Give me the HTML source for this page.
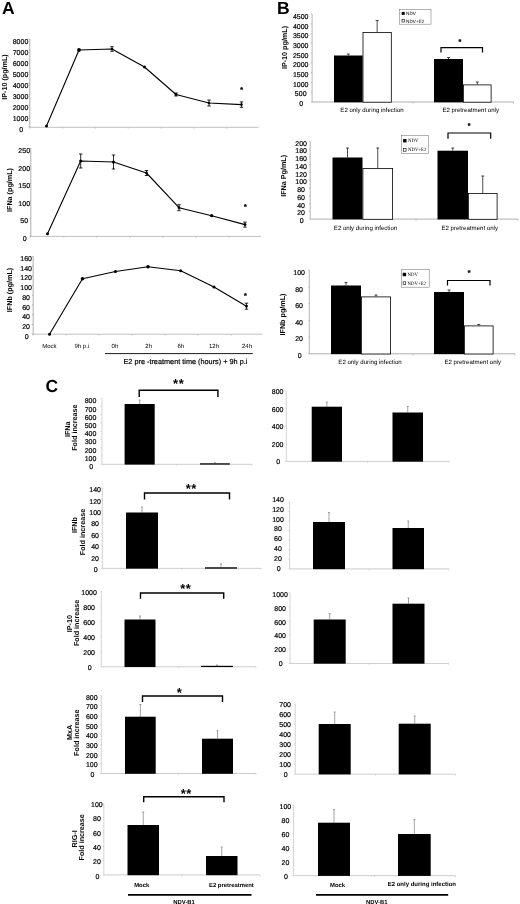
<!DOCTYPE html>
<html lang="en"><head><meta charset="utf-8"><title>Figure</title>
<style>
html,body{margin:0;padding:0;background:#fff;}
body{width:520px;height:904px;overflow:hidden;}
svg{display:block;will-change:transform;font-family:'Liberation Sans', Arial, Helvetica, sans-serif;fill:#000;}
.t{stroke:#000;stroke-width:0.2px;}
.s{stroke:#000;stroke-width:0.3px;}
</style></head><body>
<svg width="520" height="904" viewBox="0 0 520 904" text-rendering="geometricPrecision">
<text x="1.9" y="13.6" font-size="17.5" font-weight="bold">A</text>
<text x="277" y="13.6" font-size="17.5" font-weight="bold">B</text>
<text x="45.6" y="391.6" font-size="17.5" font-weight="bold">C</text>
<line x1="29.8" y1="39" x2="29.8" y2="127.3" stroke="#8c8c8c" stroke-width="0.7"/>
<line x1="28.5" y1="127.3" x2="29.8" y2="127.3" stroke="#8c8c8c" stroke-width="0.56"/>
<text x="21.1" y="131.81" font-size="7" text-anchor="middle" class="t">0</text>
<line x1="28.5" y1="116.26" x2="29.8" y2="116.26" stroke="#8c8c8c" stroke-width="0.56"/>
<text x="20.5" y="120.8" font-size="7" text-anchor="middle" class="t">1000</text>
<line x1="28.5" y1="105.22" x2="29.8" y2="105.22" stroke="#8c8c8c" stroke-width="0.56"/>
<text x="20.5" y="109.79" font-size="7" text-anchor="middle" class="t">2000</text>
<line x1="28.5" y1="94.19" x2="29.8" y2="94.19" stroke="#8c8c8c" stroke-width="0.56"/>
<text x="20.5" y="98.79" font-size="7" text-anchor="middle" class="t">3000</text>
<line x1="28.5" y1="83.15" x2="29.8" y2="83.15" stroke="#8c8c8c" stroke-width="0.56"/>
<text x="20.5" y="87.78" font-size="7" text-anchor="middle" class="t">4000</text>
<line x1="28.5" y1="72.11" x2="29.8" y2="72.11" stroke="#8c8c8c" stroke-width="0.56"/>
<text x="20.5" y="76.77" font-size="7" text-anchor="middle" class="t">5000</text>
<line x1="28.5" y1="61.08" x2="29.8" y2="61.08" stroke="#8c8c8c" stroke-width="0.56"/>
<text x="20.5" y="65.77" font-size="7" text-anchor="middle" class="t">6000</text>
<line x1="28.5" y1="50.04" x2="29.8" y2="50.04" stroke="#8c8c8c" stroke-width="0.56"/>
<text x="20.5" y="54.76" font-size="7" text-anchor="middle" class="t">7000</text>
<line x1="28.5" y1="39" x2="29.8" y2="39" stroke="#8c8c8c" stroke-width="0.56"/>
<text x="20.5" y="43.76" font-size="7" text-anchor="middle" class="t">8000</text>
<line x1="29.8" y1="127.3" x2="258.5" y2="127.3" stroke="#a8a8a8" stroke-width="0.7"/>
<line x1="29.8" y1="127.3" x2="29.8" y2="128.8" stroke="#a8a8a8" stroke-width="0.56"/>
<line x1="62.6" y1="127.3" x2="62.6" y2="128.8" stroke="#a8a8a8" stroke-width="0.56"/>
<line x1="95.4" y1="127.3" x2="95.4" y2="128.8" stroke="#a8a8a8" stroke-width="0.56"/>
<line x1="128.2" y1="127.3" x2="128.2" y2="128.8" stroke="#a8a8a8" stroke-width="0.56"/>
<line x1="161" y1="127.3" x2="161" y2="128.8" stroke="#a8a8a8" stroke-width="0.56"/>
<line x1="193.8" y1="127.3" x2="193.8" y2="128.8" stroke="#a8a8a8" stroke-width="0.56"/>
<line x1="226.6" y1="127.3" x2="226.6" y2="128.8" stroke="#a8a8a8" stroke-width="0.56"/>
<path d="M46.5,126 L79,50 L112,49 L144.5,67 L176,94.5 L209,103 L241.5,104.6" fill="none" stroke="#000" stroke-width="1.1" stroke-linejoin="round"/>
<circle cx="46.5" cy="126" r="1.5"/>
<circle cx="79" cy="50" r="1.9"/>
<line x1="112" y1="46.7" x2="112" y2="51.3" stroke="#000" stroke-width="0.85"/>
<line x1="110.3" y1="46.7" x2="113.7" y2="46.7" stroke="#000" stroke-width="0.85"/>
<line x1="110.3" y1="51.3" x2="113.7" y2="51.3" stroke="#000" stroke-width="0.85"/>
<circle cx="112" cy="49" r="1.3"/>
<circle cx="144.5" cy="67" r="1.5"/>
<line x1="176" y1="93" x2="176" y2="96" stroke="#000" stroke-width="0.85"/>
<line x1="174.3" y1="93" x2="177.7" y2="93" stroke="#000" stroke-width="0.85"/>
<line x1="174.3" y1="96" x2="177.7" y2="96" stroke="#000" stroke-width="0.85"/>
<circle cx="176" cy="94.5" r="1.4"/>
<line x1="209" y1="100" x2="209" y2="106" stroke="#000" stroke-width="0.85"/>
<line x1="207.3" y1="100" x2="210.7" y2="100" stroke="#000" stroke-width="0.85"/>
<line x1="207.3" y1="106" x2="210.7" y2="106" stroke="#000" stroke-width="0.85"/>
<circle cx="209" cy="103" r="1.3"/>
<line x1="241.5" y1="101.9" x2="241.5" y2="107.3" stroke="#000" stroke-width="0.85"/>
<line x1="239.8" y1="101.9" x2="243.2" y2="101.9" stroke="#000" stroke-width="0.85"/>
<line x1="239.8" y1="107.3" x2="243.2" y2="107.3" stroke="#000" stroke-width="0.85"/>
<circle cx="241.5" cy="104.6" r="1.3"/>
<text x="241.65" y="92.15" font-size="7" font-weight="bold" text-anchor="middle" class="s">*</text>
<text x="6.54" y="77" font-size="7.2" text-anchor="middle" font-weight="bold" transform="rotate(-90 6.54 77)">IP-10 (pg/mL)</text>
<line x1="30.8" y1="148.3" x2="30.8" y2="236.4" stroke="#8c8c8c" stroke-width="0.7"/>
<line x1="29.5" y1="236.4" x2="30.8" y2="236.4" stroke="#8c8c8c" stroke-width="0.56"/>
<text x="24.8" y="240.91" font-size="7" text-anchor="middle" class="t">0</text>
<line x1="29.5" y1="218.78" x2="30.8" y2="218.78" stroke="#8c8c8c" stroke-width="0.56"/>
<text x="24.2" y="223.35" font-size="7" text-anchor="middle" class="t">50</text>
<line x1="29.5" y1="201.16" x2="30.8" y2="201.16" stroke="#8c8c8c" stroke-width="0.56"/>
<text x="24.2" y="205.79" font-size="7" text-anchor="middle" class="t">100</text>
<line x1="29.5" y1="183.54" x2="30.8" y2="183.54" stroke="#8c8c8c" stroke-width="0.56"/>
<text x="24.2" y="188.23" font-size="7" text-anchor="middle" class="t">150</text>
<line x1="29.5" y1="165.92" x2="30.8" y2="165.92" stroke="#8c8c8c" stroke-width="0.56"/>
<text x="24.2" y="170.67" font-size="7" text-anchor="middle" class="t">200</text>
<line x1="29.5" y1="148.3" x2="30.8" y2="148.3" stroke="#8c8c8c" stroke-width="0.56"/>
<text x="24.2" y="153.11" font-size="7" text-anchor="middle" class="t">250</text>
<line x1="30.8" y1="236.4" x2="261" y2="236.4" stroke="#a8a8a8" stroke-width="0.7"/>
<line x1="30.8" y1="236.4" x2="30.8" y2="237.9" stroke="#a8a8a8" stroke-width="0.56"/>
<line x1="63.8" y1="236.4" x2="63.8" y2="237.9" stroke="#a8a8a8" stroke-width="0.56"/>
<line x1="96.8" y1="236.4" x2="96.8" y2="237.9" stroke="#a8a8a8" stroke-width="0.56"/>
<line x1="129.8" y1="236.4" x2="129.8" y2="237.9" stroke="#a8a8a8" stroke-width="0.56"/>
<line x1="162.8" y1="236.4" x2="162.8" y2="237.9" stroke="#a8a8a8" stroke-width="0.56"/>
<line x1="195.8" y1="236.4" x2="195.8" y2="237.9" stroke="#a8a8a8" stroke-width="0.56"/>
<line x1="228.8" y1="236.4" x2="228.8" y2="237.9" stroke="#a8a8a8" stroke-width="0.56"/>
<path d="M47.5,233.7 L80.7,161 L113.5,162 L146.5,173 L179,207.7 L211.7,215.7 L245,224.6" fill="none" stroke="#000" stroke-width="1.1" stroke-linejoin="round"/>
<circle cx="47.5" cy="233.7" r="1.5"/>
<line x1="80.7" y1="154" x2="80.7" y2="168" stroke="#000" stroke-width="0.85"/>
<line x1="79" y1="154" x2="82.4" y2="154" stroke="#000" stroke-width="0.85"/>
<line x1="79" y1="168" x2="82.4" y2="168" stroke="#000" stroke-width="0.85"/>
<circle cx="80.7" cy="161" r="1.6"/>
<line x1="113.5" y1="155" x2="113.5" y2="169" stroke="#000" stroke-width="0.85"/>
<line x1="111.8" y1="155" x2="115.2" y2="155" stroke="#000" stroke-width="0.85"/>
<line x1="111.8" y1="169" x2="115.2" y2="169" stroke="#000" stroke-width="0.85"/>
<circle cx="113.5" cy="162" r="1.6"/>
<line x1="146.5" y1="170.5" x2="146.5" y2="175.5" stroke="#000" stroke-width="0.85"/>
<line x1="144.8" y1="170.5" x2="148.2" y2="170.5" stroke="#000" stroke-width="0.85"/>
<line x1="144.8" y1="175.5" x2="148.2" y2="175.5" stroke="#000" stroke-width="0.85"/>
<circle cx="146.5" cy="173" r="1.4"/>
<line x1="179" y1="204.7" x2="179" y2="210.7" stroke="#000" stroke-width="0.85"/>
<line x1="177.3" y1="204.7" x2="180.7" y2="204.7" stroke="#000" stroke-width="0.85"/>
<line x1="177.3" y1="210.7" x2="180.7" y2="210.7" stroke="#000" stroke-width="0.85"/>
<circle cx="179" cy="207.7" r="1.4"/>
<circle cx="211.7" cy="215.7" r="1.6"/>
<line x1="245" y1="222.1" x2="245" y2="227.1" stroke="#000" stroke-width="0.85"/>
<line x1="243.3" y1="222.1" x2="246.7" y2="222.1" stroke="#000" stroke-width="0.85"/>
<line x1="243.3" y1="227.1" x2="246.7" y2="227.1" stroke="#000" stroke-width="0.85"/>
<circle cx="245" cy="224.6" r="1.4"/>
<text x="245.25" y="209.15" font-size="7" font-weight="bold" text-anchor="middle" class="s">*</text>
<text x="12.24" y="190" font-size="7.2" text-anchor="middle" font-weight="bold" transform="rotate(-90 12.24 190)">IFNa (pg/mL)</text>
<line x1="33.2" y1="256.4" x2="33.2" y2="334.2" stroke="#8c8c8c" stroke-width="0.7"/>
<line x1="31.9" y1="334.2" x2="33.2" y2="334.2" stroke="#8c8c8c" stroke-width="0.56"/>
<text x="26.7" y="338.71" font-size="7" text-anchor="middle" class="t">0</text>
<line x1="31.9" y1="324.47" x2="33.2" y2="324.47" stroke="#8c8c8c" stroke-width="0.56"/>
<text x="26.1" y="328.98" font-size="7" text-anchor="middle" class="t">20</text>
<line x1="31.9" y1="314.75" x2="33.2" y2="314.75" stroke="#8c8c8c" stroke-width="0.56"/>
<text x="26.1" y="319.26" font-size="7" text-anchor="middle" class="t">40</text>
<line x1="31.9" y1="305.02" x2="33.2" y2="305.02" stroke="#8c8c8c" stroke-width="0.56"/>
<text x="26.1" y="309.53" font-size="7" text-anchor="middle" class="t">60</text>
<line x1="31.9" y1="295.3" x2="33.2" y2="295.3" stroke="#8c8c8c" stroke-width="0.56"/>
<text x="26.1" y="299.81" font-size="7" text-anchor="middle" class="t">80</text>
<line x1="31.9" y1="285.57" x2="33.2" y2="285.57" stroke="#8c8c8c" stroke-width="0.56"/>
<text x="26.1" y="290.08" font-size="7" text-anchor="middle" class="t">100</text>
<line x1="31.9" y1="275.85" x2="33.2" y2="275.85" stroke="#8c8c8c" stroke-width="0.56"/>
<text x="26.1" y="280.36" font-size="7" text-anchor="middle" class="t">120</text>
<line x1="31.9" y1="266.12" x2="33.2" y2="266.12" stroke="#8c8c8c" stroke-width="0.56"/>
<text x="26.1" y="270.63" font-size="7" text-anchor="middle" class="t">140</text>
<line x1="31.9" y1="256.4" x2="33.2" y2="256.4" stroke="#8c8c8c" stroke-width="0.56"/>
<text x="26.1" y="260.91" font-size="7" text-anchor="middle" class="t">160</text>
<line x1="33.2" y1="334.2" x2="262.5" y2="334.2" stroke="#a8a8a8" stroke-width="0.7"/>
<line x1="33.2" y1="334.2" x2="33.2" y2="335.7" stroke="#a8a8a8" stroke-width="0.56"/>
<line x1="66.2" y1="334.2" x2="66.2" y2="335.7" stroke="#a8a8a8" stroke-width="0.56"/>
<line x1="99.2" y1="334.2" x2="99.2" y2="335.7" stroke="#a8a8a8" stroke-width="0.56"/>
<line x1="132.2" y1="334.2" x2="132.2" y2="335.7" stroke="#a8a8a8" stroke-width="0.56"/>
<line x1="165.2" y1="334.2" x2="165.2" y2="335.7" stroke="#a8a8a8" stroke-width="0.56"/>
<line x1="198.2" y1="334.2" x2="198.2" y2="335.7" stroke="#a8a8a8" stroke-width="0.56"/>
<line x1="231.2" y1="334.2" x2="231.2" y2="335.7" stroke="#a8a8a8" stroke-width="0.56"/>
<path d="M49.5,334.2 L82.5,278.7 L115.5,271.5 L148,266.7 L180.7,270.7 L214,287 L246.5,306.2" fill="none" stroke="#000" stroke-width="1.1" stroke-linejoin="round"/>
<circle cx="49.5" cy="334.2" r="1.5"/>
<circle cx="82.5" cy="278.7" r="1.8"/>
<circle cx="115.5" cy="271.5" r="1.6"/>
<circle cx="148" cy="266.7" r="1.8"/>
<circle cx="180.7" cy="270.7" r="1.5"/>
<circle cx="214" cy="287" r="1.6"/>
<line x1="246.5" y1="303.2" x2="246.5" y2="309.2" stroke="#000" stroke-width="0.85"/>
<line x1="244.8" y1="303.2" x2="248.2" y2="303.2" stroke="#000" stroke-width="0.85"/>
<line x1="244.8" y1="309.2" x2="248.2" y2="309.2" stroke="#000" stroke-width="0.85"/>
<circle cx="246.5" cy="306.2" r="1.4"/>
<text x="245.25" y="297.95" font-size="7" font-weight="bold" text-anchor="middle" class="s">*</text>
<text x="12.04" y="290" font-size="7.2" text-anchor="middle" font-weight="bold" transform="rotate(-90 12.04 290)">IFNb (pg/mL)</text>
<text x="49.4" y="347.7" font-size="6" text-anchor="middle">Mock</text>
<text x="81.8" y="347.7" font-size="6" text-anchor="middle">9h p.i</text>
<text x="114.9" y="347.7" font-size="6" text-anchor="middle">0h</text>
<text x="148.7" y="347.7" font-size="6" text-anchor="middle">2h</text>
<text x="180.8" y="347.7" font-size="6" text-anchor="middle">6h</text>
<text x="214" y="347.7" font-size="6" text-anchor="middle">12h</text>
<text x="247" y="347.7" font-size="6" text-anchor="middle">24h</text>
<line x1="105" y1="353.6" x2="252.8" y2="353.6" stroke="#000" stroke-width="0.9"/>
<text x="185.4" y="364" font-size="7.3" text-anchor="middle" class="t">E2 pre -treatment time (hours) + 9h p.i</text>
<line x1="312.1" y1="14.1" x2="312.1" y2="102" stroke="#9a9a9a" stroke-width="0.7"/>
<line x1="310.8" y1="102" x2="312.1" y2="102" stroke="#9a9a9a" stroke-width="0.56"/>
<text x="301.3" y="106.21" font-size="7" text-anchor="middle" class="t">0</text>
<line x1="310.8" y1="92.23" x2="312.1" y2="92.23" stroke="#9a9a9a" stroke-width="0.56"/>
<text x="300.7" y="96.49" font-size="7" text-anchor="middle" class="t">500</text>
<line x1="310.8" y1="82.47" x2="312.1" y2="82.47" stroke="#9a9a9a" stroke-width="0.56"/>
<text x="300.7" y="86.78" font-size="7" text-anchor="middle" class="t">1000</text>
<line x1="310.8" y1="72.7" x2="312.1" y2="72.7" stroke="#9a9a9a" stroke-width="0.56"/>
<text x="300.7" y="77.07" font-size="7" text-anchor="middle" class="t">1500</text>
<line x1="310.8" y1="62.93" x2="312.1" y2="62.93" stroke="#9a9a9a" stroke-width="0.56"/>
<text x="300.7" y="67.36" font-size="7" text-anchor="middle" class="t">2000</text>
<line x1="310.8" y1="53.17" x2="312.1" y2="53.17" stroke="#9a9a9a" stroke-width="0.56"/>
<text x="300.7" y="57.65" font-size="7" text-anchor="middle" class="t">2500</text>
<line x1="310.8" y1="43.4" x2="312.1" y2="43.4" stroke="#9a9a9a" stroke-width="0.56"/>
<text x="300.7" y="47.94" font-size="7" text-anchor="middle" class="t">3000</text>
<line x1="310.8" y1="33.63" x2="312.1" y2="33.63" stroke="#9a9a9a" stroke-width="0.56"/>
<text x="300.7" y="38.23" font-size="7" text-anchor="middle" class="t">3500</text>
<line x1="310.8" y1="23.87" x2="312.1" y2="23.87" stroke="#9a9a9a" stroke-width="0.56"/>
<text x="300.7" y="28.52" font-size="7" text-anchor="middle" class="t">4000</text>
<line x1="310.8" y1="14.1" x2="312.1" y2="14.1" stroke="#9a9a9a" stroke-width="0.56"/>
<text x="300.7" y="18.81" font-size="7" text-anchor="middle" class="t">4500</text>
<line x1="312.1" y1="102" x2="513.5" y2="102" stroke="#8e8e8e" stroke-width="0.7"/>
<line x1="413" y1="102" x2="413" y2="103.5" stroke="#8e8e8e" stroke-width="0.56"/>
<line x1="513.5" y1="102" x2="513.5" y2="103.5" stroke="#8e8e8e" stroke-width="0.56"/>
<line x1="348.3" y1="54" x2="348.3" y2="55.5" stroke="#000" stroke-width="0.7"/>
<line x1="346.8" y1="54" x2="349.8" y2="54" stroke="#000" stroke-width="0.7"/>
<rect x="334" y="55.5" width="28.6" height="46.8" fill="#000"/>
<line x1="377.15" y1="20.5" x2="377.15" y2="32" stroke="#000" stroke-width="0.7"/>
<line x1="375.65" y1="20.5" x2="378.65" y2="20.5" stroke="#000" stroke-width="0.7"/>
<rect x="363" y="32.4" width="28.3" height="69.8" fill="#fff" stroke="#000" stroke-width="0.8"/>
<line x1="448.5" y1="57.5" x2="448.5" y2="59" stroke="#000" stroke-width="0.7"/>
<line x1="447" y1="57.5" x2="450" y2="57.5" stroke="#000" stroke-width="0.7"/>
<rect x="434" y="59" width="29" height="43.3" fill="#000"/>
<line x1="477.25" y1="82" x2="477.25" y2="84.5" stroke="#000" stroke-width="0.7"/>
<line x1="475.75" y1="82" x2="478.75" y2="82" stroke="#000" stroke-width="0.7"/>
<rect x="463.4" y="84.9" width="27.7" height="17.3" fill="#fff" stroke="#000" stroke-width="0.8"/>
<text x="286.94" y="47.5" font-size="7.2" text-anchor="middle" font-weight="bold" transform="rotate(-90 286.94 47.5)">IP-10 pg/mL)</text>
<rect x="399.6" y="9.3" width="31.4" height="14.9" fill="#fff" stroke="#808080" stroke-width="0.6"/>
<rect x="401.7" y="11.9" width="3" height="3" fill="#000"/>
<rect x="402" y="19.6" width="2.4" height="2.4" fill="#fff" stroke="#000" stroke-width="0.6"/>
<text x="406" y="15.1" font-size="4.7">NDV</text>
<text x="406" y="22.5" font-size="4.7">NDV+E2</text>
<path d="M441,52.5 V47.7 H482.5 V52.5" fill="none" stroke="#000" stroke-width="1.2"/>
<text x="459.9" y="43.85" font-size="7" font-weight="bold" text-anchor="middle" class="s">*</text>
<text x="372" y="112.2" font-size="6.1" text-anchor="middle">E2 only during infection</text>
<text x="470.7" y="112.2" font-size="6.1" text-anchor="middle">E2 pretreatment only</text>
<line x1="310.2" y1="141.3" x2="310.2" y2="219.1" stroke="#9a9a9a" stroke-width="0.7"/>
<line x1="308.9" y1="219.1" x2="310.2" y2="219.1" stroke="#9a9a9a" stroke-width="0.56"/>
<text x="301.7" y="223.21" font-size="7" text-anchor="middle" class="t">0</text>
<line x1="308.9" y1="211.32" x2="310.2" y2="211.32" stroke="#9a9a9a" stroke-width="0.56"/>
<text x="301.1" y="215.45" font-size="7" text-anchor="middle" class="t">20</text>
<line x1="308.9" y1="203.54" x2="310.2" y2="203.54" stroke="#9a9a9a" stroke-width="0.56"/>
<text x="301.1" y="207.7" font-size="7" text-anchor="middle" class="t">40</text>
<line x1="308.9" y1="195.76" x2="310.2" y2="195.76" stroke="#9a9a9a" stroke-width="0.56"/>
<text x="301.1" y="199.94" font-size="7" text-anchor="middle" class="t">60</text>
<line x1="308.9" y1="187.98" x2="310.2" y2="187.98" stroke="#9a9a9a" stroke-width="0.56"/>
<text x="301.1" y="192.19" font-size="7" text-anchor="middle" class="t">80</text>
<line x1="308.9" y1="180.2" x2="310.2" y2="180.2" stroke="#9a9a9a" stroke-width="0.56"/>
<text x="301.1" y="184.43" font-size="7" text-anchor="middle" class="t">100</text>
<line x1="308.9" y1="172.42" x2="310.2" y2="172.42" stroke="#9a9a9a" stroke-width="0.56"/>
<text x="301.1" y="176.68" font-size="7" text-anchor="middle" class="t">120</text>
<line x1="308.9" y1="164.64" x2="310.2" y2="164.64" stroke="#9a9a9a" stroke-width="0.56"/>
<text x="301.1" y="168.92" font-size="7" text-anchor="middle" class="t">140</text>
<line x1="308.9" y1="156.86" x2="310.2" y2="156.86" stroke="#9a9a9a" stroke-width="0.56"/>
<text x="301.1" y="161.17" font-size="7" text-anchor="middle" class="t">160</text>
<line x1="308.9" y1="149.08" x2="310.2" y2="149.08" stroke="#9a9a9a" stroke-width="0.56"/>
<text x="301.1" y="153.41" font-size="7" text-anchor="middle" class="t">180</text>
<line x1="308.9" y1="141.3" x2="310.2" y2="141.3" stroke="#9a9a9a" stroke-width="0.56"/>
<text x="301.1" y="145.66" font-size="7" text-anchor="middle" class="t">200</text>
<line x1="310.2" y1="219.1" x2="518" y2="219.1" stroke="#8e8e8e" stroke-width="0.7"/>
<line x1="416" y1="219.1" x2="416" y2="220.6" stroke="#8e8e8e" stroke-width="0.56"/>
<line x1="518" y1="219.1" x2="518" y2="220.6" stroke="#8e8e8e" stroke-width="0.56"/>
<line x1="347.5" y1="148" x2="347.5" y2="157.5" stroke="#000" stroke-width="0.7"/>
<line x1="346" y1="148" x2="349" y2="148" stroke="#000" stroke-width="0.7"/>
<rect x="332.5" y="157.5" width="30" height="61.9" fill="#000"/>
<line x1="377.75" y1="148" x2="377.75" y2="168" stroke="#000" stroke-width="0.7"/>
<line x1="376.25" y1="148" x2="379.25" y2="148" stroke="#000" stroke-width="0.7"/>
<rect x="362.9" y="168.4" width="29.7" height="50.9" fill="#fff" stroke="#000" stroke-width="0.8"/>
<line x1="452.75" y1="148" x2="452.75" y2="150.7" stroke="#000" stroke-width="0.7"/>
<line x1="451.25" y1="148" x2="454.25" y2="148" stroke="#000" stroke-width="0.7"/>
<rect x="437.5" y="150.7" width="30.5" height="68.7" fill="#000"/>
<line x1="482.75" y1="176" x2="482.75" y2="193" stroke="#000" stroke-width="0.7"/>
<line x1="481.25" y1="176" x2="484.25" y2="176" stroke="#000" stroke-width="0.7"/>
<rect x="468.4" y="193.4" width="28.7" height="25.9" fill="#fff" stroke="#000" stroke-width="0.8"/>
<text x="286.34" y="175.8" font-size="7.2" text-anchor="middle" font-weight="bold" transform="rotate(-90 286.34 175.8)">IFNa Pg/mL)</text>
<rect x="401.3" y="135.6" width="27.4" height="18" fill="#fff" stroke="#808080" stroke-width="0.6"/>
<rect x="403.1" y="139" width="3.4" height="3.4" fill="#000"/>
<rect x="403.5" y="148.6" width="2.6" height="2.6" fill="#fff" stroke="#000" stroke-width="0.6"/>
<text x="408" y="141.55" font-size="4.8" font-family="'Liberation Serif', 'Times New Roman', serif">NDV</text>
<text x="408" y="150.75" font-size="4.8" font-family="'Liberation Serif', 'Times New Roman', serif">NDV+E2</text>
<path d="M448,138.7 V133 H490.7 V138.7" fill="none" stroke="#000" stroke-width="1.2"/>
<text x="469.2" y="127.85" font-size="7" font-weight="bold" text-anchor="middle" class="s">*</text>
<text x="365.5" y="230.3" font-size="6.1" text-anchor="middle">E2 only during infection</text>
<text x="469.7" y="230.3" font-size="6.1" text-anchor="middle">E2 pretreatment only</text>
<line x1="309.3" y1="270.3" x2="309.3" y2="353.8" stroke="#9a9a9a" stroke-width="0.7"/>
<line x1="308" y1="353.8" x2="309.3" y2="353.8" stroke="#9a9a9a" stroke-width="0.56"/>
<text x="299.7" y="358.01" font-size="7" text-anchor="middle" class="t">0</text>
<line x1="308" y1="337.1" x2="309.3" y2="337.1" stroke="#9a9a9a" stroke-width="0.56"/>
<text x="299.1" y="341.41" font-size="7" text-anchor="middle" class="t">20</text>
<line x1="308" y1="320.4" x2="309.3" y2="320.4" stroke="#9a9a9a" stroke-width="0.56"/>
<text x="299.1" y="324.81" font-size="7" text-anchor="middle" class="t">40</text>
<line x1="308" y1="303.7" x2="309.3" y2="303.7" stroke="#9a9a9a" stroke-width="0.56"/>
<text x="299.1" y="308.21" font-size="7" text-anchor="middle" class="t">60</text>
<line x1="308" y1="287" x2="309.3" y2="287" stroke="#9a9a9a" stroke-width="0.56"/>
<text x="299.1" y="291.61" font-size="7" text-anchor="middle" class="t">80</text>
<line x1="308" y1="270.3" x2="309.3" y2="270.3" stroke="#9a9a9a" stroke-width="0.56"/>
<text x="299.1" y="275.01" font-size="7" text-anchor="middle" class="t">100</text>
<line x1="309.3" y1="353.8" x2="515" y2="353.8" stroke="#8e8e8e" stroke-width="0.7"/>
<line x1="413" y1="353.8" x2="413" y2="355.3" stroke="#8e8e8e" stroke-width="0.56"/>
<line x1="515" y1="353.8" x2="515" y2="355.3" stroke="#8e8e8e" stroke-width="0.56"/>
<line x1="346" y1="282.5" x2="346" y2="285.5" stroke="#000" stroke-width="0.7"/>
<line x1="344.5" y1="282.5" x2="347.5" y2="282.5" stroke="#000" stroke-width="0.7"/>
<rect x="331" y="285.5" width="30" height="68.6" fill="#000"/>
<line x1="376" y1="295" x2="376" y2="296.5" stroke="#000" stroke-width="0.7"/>
<line x1="374.5" y1="295" x2="377.5" y2="295" stroke="#000" stroke-width="0.7"/>
<rect x="361.4" y="296.9" width="29.2" height="57.1" fill="#fff" stroke="#000" stroke-width="0.8"/>
<line x1="449" y1="290" x2="449" y2="292" stroke="#000" stroke-width="0.7"/>
<line x1="447.5" y1="290" x2="450.5" y2="290" stroke="#000" stroke-width="0.7"/>
<rect x="434" y="292" width="30" height="62.1" fill="#000"/>
<line x1="478.75" y1="324.5" x2="478.75" y2="325.5" stroke="#000" stroke-width="0.7"/>
<line x1="477.25" y1="324.5" x2="480.25" y2="324.5" stroke="#000" stroke-width="0.7"/>
<rect x="464.4" y="325.9" width="28.7" height="28.1" fill="#fff" stroke="#000" stroke-width="0.8"/>
<text x="285.44" y="314.5" font-size="7.2" text-anchor="middle" font-weight="bold" transform="rotate(-90 285.44 314.5)">IFNb pg/mL)</text>
<rect x="401.3" y="269.5" width="27.9" height="17.7" fill="#fff" stroke="#808080" stroke-width="0.6"/>
<rect x="402.7" y="272.8" width="3.4" height="3.4" fill="#000"/>
<rect x="403.1" y="281.8" width="2.6" height="2.6" fill="#fff" stroke="#000" stroke-width="0.6"/>
<text x="407.5" y="275.85" font-size="4.8" font-family="'Liberation Serif', 'Times New Roman', serif">NDV</text>
<text x="407.5" y="284.65" font-size="4.8" font-family="'Liberation Serif', 'Times New Roman', serif">NDV+E2</text>
<path d="M447.5,285.5 V280.5 H490 V285.5" fill="none" stroke="#000" stroke-width="1.2"/>
<text x="469.2" y="275.35" font-size="7" font-weight="bold" text-anchor="middle" class="s">*</text>
<text x="370" y="363.7" font-size="6.1" text-anchor="middle">E2 only during infection</text>
<text x="472.7" y="363.7" font-size="6.1" text-anchor="middle">E2 pretreatment only</text>
<line x1="102" y1="398.25" x2="102" y2="464.3" stroke="#c0c0c0" stroke-width="0.7"/>
<line x1="100.7" y1="464.3" x2="102" y2="464.3" stroke="#c0c0c0" stroke-width="0.56"/>
<text x="91.1" y="469.01" font-size="7" text-anchor="middle" class="t">0</text>
<line x1="100.7" y1="456.04" x2="102" y2="456.04" stroke="#c0c0c0" stroke-width="0.56"/>
<text x="90.5" y="460.8" font-size="7" text-anchor="middle" class="t">100</text>
<line x1="100.7" y1="447.79" x2="102" y2="447.79" stroke="#c0c0c0" stroke-width="0.56"/>
<text x="90.5" y="452.59" font-size="7" text-anchor="middle" class="t">200</text>
<line x1="100.7" y1="439.53" x2="102" y2="439.53" stroke="#c0c0c0" stroke-width="0.56"/>
<text x="90.5" y="444.39" font-size="7" text-anchor="middle" class="t">300</text>
<line x1="100.7" y1="431.27" x2="102" y2="431.27" stroke="#c0c0c0" stroke-width="0.56"/>
<text x="90.5" y="436.18" font-size="7" text-anchor="middle" class="t">400</text>
<line x1="100.7" y1="423.02" x2="102" y2="423.02" stroke="#c0c0c0" stroke-width="0.56"/>
<text x="90.5" y="427.97" font-size="7" text-anchor="middle" class="t">500</text>
<line x1="100.7" y1="414.76" x2="102" y2="414.76" stroke="#c0c0c0" stroke-width="0.56"/>
<text x="90.5" y="419.77" font-size="7" text-anchor="middle" class="t">600</text>
<line x1="100.7" y1="406.51" x2="102" y2="406.51" stroke="#c0c0c0" stroke-width="0.56"/>
<text x="90.5" y="411.56" font-size="7" text-anchor="middle" class="t">700</text>
<line x1="100.7" y1="398.25" x2="102" y2="398.25" stroke="#c0c0c0" stroke-width="0.56"/>
<text x="90.5" y="403.36" font-size="7" text-anchor="middle" class="t">800</text>
<line x1="102" y1="464.3" x2="252" y2="464.3" stroke="#b8b8b8" stroke-width="0.7"/>
<line x1="177" y1="464.3" x2="177" y2="465.8" stroke="#b8b8b8" stroke-width="0.56"/>
<line x1="252" y1="464.3" x2="252" y2="465.8" stroke="#b8b8b8" stroke-width="0.56"/>
<line x1="139.65" y1="400" x2="139.65" y2="404" stroke="#666" stroke-width="0.6"/>
<line x1="138.65" y1="400" x2="140.65" y2="400" stroke="#666" stroke-width="0.6"/>
<rect x="124.6" y="404" width="30.1" height="60.6" fill="#000"/>
<line x1="214.9" y1="462.7" x2="214.9" y2="463.3" stroke="#666" stroke-width="0.6"/>
<line x1="213.9" y1="462.7" x2="215.9" y2="462.7" stroke="#666" stroke-width="0.6"/>
<rect x="200" y="463.3" width="29.8" height="1.3" fill="#000"/>
<text x="69.79" y="429.3" font-size="7.2" text-anchor="middle" font-weight="bold" transform="rotate(-90 69.79 429.3)">IFNa</text>
<text x="77.49" y="427.6" font-size="7.2" text-anchor="middle" font-weight="bold" transform="rotate(-90 77.49 427.6)">Fold increase</text>
<path d="M139.2,397 V390.3 H217.9 V397" fill="none" stroke="#000" stroke-width="1.4"/>
<text x="178.7" y="387.8" font-size="13" font-weight="bold" text-anchor="middle" letter-spacing="0.6">**</text>
<line x1="286.3" y1="391" x2="286.3" y2="461.4" stroke="#c0c0c0" stroke-width="0.7"/>
<line x1="285" y1="461.4" x2="286.3" y2="461.4" stroke="#c0c0c0" stroke-width="0.56"/>
<text x="278.2" y="464.31" font-size="7" text-anchor="middle" class="t">0</text>
<line x1="285" y1="443.8" x2="286.3" y2="443.8" stroke="#c0c0c0" stroke-width="0.56"/>
<text x="277.6" y="446.73" font-size="7" text-anchor="middle" class="t">200</text>
<line x1="285" y1="426.2" x2="286.3" y2="426.2" stroke="#c0c0c0" stroke-width="0.56"/>
<text x="277.6" y="429.16" font-size="7" text-anchor="middle" class="t">400</text>
<line x1="285" y1="408.6" x2="286.3" y2="408.6" stroke="#c0c0c0" stroke-width="0.56"/>
<text x="277.6" y="411.58" font-size="7" text-anchor="middle" class="t">600</text>
<line x1="285" y1="391" x2="286.3" y2="391" stroke="#c0c0c0" stroke-width="0.56"/>
<text x="277.6" y="394.01" font-size="7" text-anchor="middle" class="t">800</text>
<line x1="286.3" y1="461.4" x2="449" y2="461.4" stroke="#b8b8b8" stroke-width="0.7"/>
<line x1="367.65" y1="461.4" x2="367.65" y2="462.9" stroke="#b8b8b8" stroke-width="0.56"/>
<line x1="449" y1="461.4" x2="449" y2="462.9" stroke="#b8b8b8" stroke-width="0.56"/>
<line x1="326.85" y1="402" x2="326.85" y2="406.7" stroke="#666" stroke-width="0.6"/>
<line x1="325.85" y1="402" x2="327.85" y2="402" stroke="#666" stroke-width="0.6"/>
<rect x="311.7" y="406.7" width="30.3" height="55" fill="#000"/>
<line x1="407.75" y1="406.5" x2="407.75" y2="412.5" stroke="#666" stroke-width="0.6"/>
<line x1="406.75" y1="406.5" x2="408.75" y2="406.5" stroke="#666" stroke-width="0.6"/>
<rect x="392.5" y="412.5" width="30.5" height="49.2" fill="#000"/>
<line x1="102.35" y1="488" x2="102.35" y2="568.35" stroke="#c0c0c0" stroke-width="0.7"/>
<line x1="101.05" y1="568.35" x2="102.35" y2="568.35" stroke="#c0c0c0" stroke-width="0.56"/>
<text x="95.7" y="572.21" font-size="7" text-anchor="middle" class="t">0</text>
<line x1="101.05" y1="556.87" x2="102.35" y2="556.87" stroke="#c0c0c0" stroke-width="0.56"/>
<text x="95.1" y="560.76" font-size="7" text-anchor="middle" class="t">20</text>
<line x1="101.05" y1="545.39" x2="102.35" y2="545.39" stroke="#c0c0c0" stroke-width="0.56"/>
<text x="95.1" y="549.32" font-size="7" text-anchor="middle" class="t">40</text>
<line x1="101.05" y1="533.91" x2="102.35" y2="533.91" stroke="#c0c0c0" stroke-width="0.56"/>
<text x="95.1" y="537.88" font-size="7" text-anchor="middle" class="t">60</text>
<line x1="101.05" y1="522.44" x2="102.35" y2="522.44" stroke="#c0c0c0" stroke-width="0.56"/>
<text x="95.1" y="526.43" font-size="7" text-anchor="middle" class="t">80</text>
<line x1="101.05" y1="510.96" x2="102.35" y2="510.96" stroke="#c0c0c0" stroke-width="0.56"/>
<text x="95.1" y="514.99" font-size="7" text-anchor="middle" class="t">100</text>
<line x1="101.05" y1="499.48" x2="102.35" y2="499.48" stroke="#c0c0c0" stroke-width="0.56"/>
<text x="95.1" y="503.55" font-size="7" text-anchor="middle" class="t">120</text>
<line x1="101.05" y1="488" x2="102.35" y2="488" stroke="#c0c0c0" stroke-width="0.56"/>
<text x="95.1" y="492.11" font-size="7" text-anchor="middle" class="t">140</text>
<line x1="102.35" y1="568.35" x2="261" y2="568.35" stroke="#b8b8b8" stroke-width="0.7"/>
<line x1="181.68" y1="568.35" x2="181.68" y2="569.85" stroke="#b8b8b8" stroke-width="0.56"/>
<line x1="261" y1="568.35" x2="261" y2="569.85" stroke="#b8b8b8" stroke-width="0.56"/>
<line x1="142" y1="507" x2="142" y2="512.5" stroke="#666" stroke-width="0.6"/>
<line x1="141" y1="507" x2="143" y2="507" stroke="#666" stroke-width="0.6"/>
<rect x="126" y="512.5" width="32" height="56.15" fill="#000"/>
<line x1="221" y1="563.9" x2="221" y2="567.3" stroke="#666" stroke-width="0.6"/>
<line x1="220" y1="563.9" x2="222" y2="563.9" stroke="#666" stroke-width="0.6"/>
<rect x="205" y="567.3" width="32" height="1.35" fill="#000"/>
<text x="77.09" y="525.1" font-size="7.2" text-anchor="middle" font-weight="bold" transform="rotate(-90 77.09 525.1)">IFNb</text>
<text x="84.59" y="532" font-size="7.2" text-anchor="middle" font-weight="bold" transform="rotate(-90 84.59 532)">Fold increase</text>
<path d="M144.5,499.5 V493 H229.5 V499.5" fill="none" stroke="#000" stroke-width="1.4"/>
<text x="191.3" y="492.5" font-size="13" font-weight="bold" text-anchor="middle" letter-spacing="0.6">**</text>
<line x1="289.6" y1="501.9" x2="289.6" y2="568.9" stroke="#c0c0c0" stroke-width="0.7"/>
<line x1="288.3" y1="568.9" x2="289.6" y2="568.9" stroke="#c0c0c0" stroke-width="0.56"/>
<text x="278.6" y="570.61" font-size="7" text-anchor="middle" class="t">0</text>
<line x1="288.3" y1="559.33" x2="289.6" y2="559.33" stroke="#c0c0c0" stroke-width="0.56"/>
<text x="278" y="560.81" font-size="7" text-anchor="middle" class="t">20</text>
<line x1="288.3" y1="549.76" x2="289.6" y2="549.76" stroke="#c0c0c0" stroke-width="0.56"/>
<text x="278" y="551.01" font-size="7" text-anchor="middle" class="t">40</text>
<line x1="288.3" y1="540.19" x2="289.6" y2="540.19" stroke="#c0c0c0" stroke-width="0.56"/>
<text x="278" y="541.21" font-size="7" text-anchor="middle" class="t">60</text>
<line x1="288.3" y1="530.61" x2="289.6" y2="530.61" stroke="#c0c0c0" stroke-width="0.56"/>
<text x="278" y="531.41" font-size="7" text-anchor="middle" class="t">80</text>
<line x1="288.3" y1="521.04" x2="289.6" y2="521.04" stroke="#c0c0c0" stroke-width="0.56"/>
<text x="278" y="521.61" font-size="7" text-anchor="middle" class="t">100</text>
<line x1="288.3" y1="511.47" x2="289.6" y2="511.47" stroke="#c0c0c0" stroke-width="0.56"/>
<text x="278" y="511.81" font-size="7" text-anchor="middle" class="t">120</text>
<line x1="288.3" y1="501.9" x2="289.6" y2="501.9" stroke="#c0c0c0" stroke-width="0.56"/>
<text x="278" y="502.01" font-size="7" text-anchor="middle" class="t">140</text>
<line x1="289.6" y1="568.9" x2="449" y2="568.9" stroke="#b8b8b8" stroke-width="0.7"/>
<line x1="369.3" y1="568.9" x2="369.3" y2="570.4" stroke="#b8b8b8" stroke-width="0.56"/>
<line x1="449" y1="568.9" x2="449" y2="570.4" stroke="#b8b8b8" stroke-width="0.56"/>
<line x1="329" y1="512.5" x2="329" y2="522" stroke="#666" stroke-width="0.6"/>
<line x1="328" y1="512.5" x2="330" y2="512.5" stroke="#666" stroke-width="0.6"/>
<rect x="313" y="522" width="32" height="47.2" fill="#000"/>
<line x1="408.25" y1="521" x2="408.25" y2="528" stroke="#666" stroke-width="0.6"/>
<line x1="407.25" y1="521" x2="409.25" y2="521" stroke="#666" stroke-width="0.6"/>
<rect x="392.5" y="528" width="31.5" height="41.2" fill="#000"/>
<line x1="101.3" y1="591.15" x2="101.3" y2="666.75" stroke="#c0c0c0" stroke-width="0.7"/>
<line x1="100" y1="666.75" x2="101.3" y2="666.75" stroke="#c0c0c0" stroke-width="0.56"/>
<text x="89.7" y="670.01" font-size="7" text-anchor="middle" class="t">0</text>
<line x1="100" y1="651.63" x2="101.3" y2="651.63" stroke="#c0c0c0" stroke-width="0.56"/>
<text x="89.1" y="654.95" font-size="7" text-anchor="middle" class="t">200</text>
<line x1="100" y1="636.51" x2="101.3" y2="636.51" stroke="#c0c0c0" stroke-width="0.56"/>
<text x="89.1" y="639.89" font-size="7" text-anchor="middle" class="t">400</text>
<line x1="100" y1="621.39" x2="101.3" y2="621.39" stroke="#c0c0c0" stroke-width="0.56"/>
<text x="89.1" y="624.83" font-size="7" text-anchor="middle" class="t">600</text>
<line x1="100" y1="606.27" x2="101.3" y2="606.27" stroke="#c0c0c0" stroke-width="0.56"/>
<text x="89.1" y="609.77" font-size="7" text-anchor="middle" class="t">800</text>
<line x1="100" y1="591.15" x2="101.3" y2="591.15" stroke="#c0c0c0" stroke-width="0.56"/>
<text x="89.1" y="594.71" font-size="7" text-anchor="middle" class="t">1000</text>
<line x1="101.3" y1="666.75" x2="256" y2="666.75" stroke="#b8b8b8" stroke-width="0.7"/>
<line x1="178.65" y1="666.75" x2="178.65" y2="668.25" stroke="#b8b8b8" stroke-width="0.56"/>
<line x1="256" y1="666.75" x2="256" y2="668.25" stroke="#b8b8b8" stroke-width="0.56"/>
<line x1="140" y1="616" x2="140" y2="619.5" stroke="#666" stroke-width="0.6"/>
<line x1="139" y1="616" x2="141" y2="616" stroke="#666" stroke-width="0.6"/>
<rect x="124.5" y="619.5" width="31" height="47.55" fill="#000"/>
<line x1="217" y1="665" x2="217" y2="665.8" stroke="#666" stroke-width="0.6"/>
<line x1="216" y1="665" x2="218" y2="665" stroke="#666" stroke-width="0.6"/>
<rect x="201" y="665.8" width="32" height="1.25" fill="#000"/>
<text x="72.09" y="623.7" font-size="7.2" text-anchor="middle" font-weight="bold" transform="rotate(-90 72.09 623.7)">IP-10</text>
<text x="79.49" y="622.9" font-size="7.2" text-anchor="middle" font-weight="bold" transform="rotate(-90 79.49 622.9)">Fold increase</text>
<path d="M140.5,598.7 V593 H223.7 V598.7" fill="none" stroke="#000" stroke-width="1.4"/>
<text x="185.8" y="592.5" font-size="13" font-weight="bold" text-anchor="middle" letter-spacing="0.6">**</text>
<line x1="290" y1="592.7" x2="290" y2="663.4" stroke="#c0c0c0" stroke-width="0.7"/>
<line x1="288.7" y1="663.4" x2="290" y2="663.4" stroke="#c0c0c0" stroke-width="0.56"/>
<text x="280.7" y="666.41" font-size="7" text-anchor="middle" class="t">0</text>
<line x1="288.7" y1="649.26" x2="290" y2="649.26" stroke="#c0c0c0" stroke-width="0.56"/>
<text x="280.1" y="652.45" font-size="7" text-anchor="middle" class="t">200</text>
<line x1="288.7" y1="635.12" x2="290" y2="635.12" stroke="#c0c0c0" stroke-width="0.56"/>
<text x="280.1" y="638.49" font-size="7" text-anchor="middle" class="t">400</text>
<line x1="288.7" y1="620.98" x2="290" y2="620.98" stroke="#c0c0c0" stroke-width="0.56"/>
<text x="280.1" y="624.53" font-size="7" text-anchor="middle" class="t">600</text>
<line x1="288.7" y1="606.84" x2="290" y2="606.84" stroke="#c0c0c0" stroke-width="0.56"/>
<text x="280.1" y="610.57" font-size="7" text-anchor="middle" class="t">800</text>
<line x1="288.7" y1="592.7" x2="290" y2="592.7" stroke="#c0c0c0" stroke-width="0.56"/>
<text x="280.1" y="596.61" font-size="7" text-anchor="middle" class="t">1000</text>
<line x1="290" y1="663.4" x2="448.7" y2="663.4" stroke="#b8b8b8" stroke-width="0.7"/>
<line x1="369.35" y1="663.4" x2="369.35" y2="664.9" stroke="#b8b8b8" stroke-width="0.56"/>
<line x1="448.7" y1="663.4" x2="448.7" y2="664.9" stroke="#b8b8b8" stroke-width="0.56"/>
<line x1="329.7" y1="613.7" x2="329.7" y2="619.5" stroke="#666" stroke-width="0.6"/>
<line x1="328.7" y1="613.7" x2="330.7" y2="613.7" stroke="#666" stroke-width="0.6"/>
<rect x="313.7" y="619.5" width="32" height="44.2" fill="#000"/>
<line x1="408.5" y1="598" x2="408.5" y2="603.7" stroke="#666" stroke-width="0.6"/>
<line x1="407.5" y1="598" x2="409.5" y2="598" stroke="#666" stroke-width="0.6"/>
<rect x="392.5" y="603.7" width="32" height="60" fill="#000"/>
<line x1="101.3" y1="695.8" x2="101.3" y2="773.5" stroke="#c0c0c0" stroke-width="0.7"/>
<line x1="100" y1="773.5" x2="101.3" y2="773.5" stroke="#c0c0c0" stroke-width="0.56"/>
<text x="92.4" y="776.81" font-size="7" text-anchor="middle" class="t">0</text>
<line x1="100" y1="763.79" x2="101.3" y2="763.79" stroke="#c0c0c0" stroke-width="0.56"/>
<text x="91.8" y="767.16" font-size="7" text-anchor="middle" class="t">100</text>
<line x1="100" y1="754.08" x2="101.3" y2="754.08" stroke="#c0c0c0" stroke-width="0.56"/>
<text x="91.8" y="757.52" font-size="7" text-anchor="middle" class="t">200</text>
<line x1="100" y1="744.36" x2="101.3" y2="744.36" stroke="#c0c0c0" stroke-width="0.56"/>
<text x="91.8" y="747.87" font-size="7" text-anchor="middle" class="t">300</text>
<line x1="100" y1="734.65" x2="101.3" y2="734.65" stroke="#c0c0c0" stroke-width="0.56"/>
<text x="91.8" y="738.23" font-size="7" text-anchor="middle" class="t">400</text>
<line x1="100" y1="724.94" x2="101.3" y2="724.94" stroke="#c0c0c0" stroke-width="0.56"/>
<text x="91.8" y="728.59" font-size="7" text-anchor="middle" class="t">500</text>
<line x1="100" y1="715.22" x2="101.3" y2="715.22" stroke="#c0c0c0" stroke-width="0.56"/>
<text x="91.8" y="718.94" font-size="7" text-anchor="middle" class="t">600</text>
<line x1="100" y1="705.51" x2="101.3" y2="705.51" stroke="#c0c0c0" stroke-width="0.56"/>
<text x="91.8" y="709.3" font-size="7" text-anchor="middle" class="t">700</text>
<line x1="100" y1="695.8" x2="101.3" y2="695.8" stroke="#c0c0c0" stroke-width="0.56"/>
<text x="91.8" y="699.66" font-size="7" text-anchor="middle" class="t">800</text>
<line x1="101.3" y1="773.5" x2="256" y2="773.5" stroke="#b8b8b8" stroke-width="0.7"/>
<line x1="178.65" y1="773.5" x2="178.65" y2="775" stroke="#b8b8b8" stroke-width="0.56"/>
<line x1="256" y1="773.5" x2="256" y2="775" stroke="#b8b8b8" stroke-width="0.56"/>
<line x1="140.35" y1="704.5" x2="140.35" y2="716.7" stroke="#666" stroke-width="0.6"/>
<line x1="139.35" y1="704.5" x2="141.35" y2="704.5" stroke="#666" stroke-width="0.6"/>
<rect x="125" y="716.7" width="30.7" height="57.1" fill="#000"/>
<line x1="217.5" y1="730.7" x2="217.5" y2="738.7" stroke="#666" stroke-width="0.6"/>
<line x1="216.5" y1="730.7" x2="218.5" y2="730.7" stroke="#666" stroke-width="0.6"/>
<rect x="202" y="738.7" width="31" height="35.1" fill="#000"/>
<text x="72.39" y="732.5" font-size="7.2" text-anchor="middle" font-weight="bold" transform="rotate(-90 72.39 732.5)">MxA</text>
<text x="79.49" y="732.7" font-size="7.2" text-anchor="middle" font-weight="bold" transform="rotate(-90 79.49 732.7)">Fold increase</text>
<path d="M142.5,702 V696 H222.5 V702" fill="none" stroke="#000" stroke-width="1.4"/>
<text x="179.7" y="697.1" font-size="13" font-weight="bold" text-anchor="middle" letter-spacing="0.6">*</text>
<line x1="295.2" y1="704.1" x2="295.2" y2="774.1" stroke="#c0c0c0" stroke-width="0.7"/>
<line x1="293.9" y1="774.1" x2="295.2" y2="774.1" stroke="#c0c0c0" stroke-width="0.56"/>
<text x="285.7" y="776.61" font-size="7" text-anchor="middle" class="t">0</text>
<line x1="293.9" y1="764.1" x2="295.2" y2="764.1" stroke="#c0c0c0" stroke-width="0.56"/>
<text x="285.1" y="766.68" font-size="7" text-anchor="middle" class="t">100</text>
<line x1="293.9" y1="754.1" x2="295.2" y2="754.1" stroke="#c0c0c0" stroke-width="0.56"/>
<text x="285.1" y="756.75" font-size="7" text-anchor="middle" class="t">200</text>
<line x1="293.9" y1="744.1" x2="295.2" y2="744.1" stroke="#c0c0c0" stroke-width="0.56"/>
<text x="285.1" y="746.82" font-size="7" text-anchor="middle" class="t">300</text>
<line x1="293.9" y1="734.1" x2="295.2" y2="734.1" stroke="#c0c0c0" stroke-width="0.56"/>
<text x="285.1" y="736.89" font-size="7" text-anchor="middle" class="t">400</text>
<line x1="293.9" y1="724.1" x2="295.2" y2="724.1" stroke="#c0c0c0" stroke-width="0.56"/>
<text x="285.1" y="726.96" font-size="7" text-anchor="middle" class="t">500</text>
<line x1="293.9" y1="714.1" x2="295.2" y2="714.1" stroke="#c0c0c0" stroke-width="0.56"/>
<text x="285.1" y="717.03" font-size="7" text-anchor="middle" class="t">600</text>
<line x1="293.9" y1="704.1" x2="295.2" y2="704.1" stroke="#c0c0c0" stroke-width="0.56"/>
<text x="285.1" y="707.11" font-size="7" text-anchor="middle" class="t">700</text>
<line x1="295.2" y1="774.1" x2="455.5" y2="774.1" stroke="#b8b8b8" stroke-width="0.7"/>
<line x1="375.35" y1="774.1" x2="375.35" y2="775.6" stroke="#b8b8b8" stroke-width="0.56"/>
<line x1="455.5" y1="774.1" x2="455.5" y2="775.6" stroke="#b8b8b8" stroke-width="0.56"/>
<line x1="334.7" y1="712" x2="334.7" y2="724" stroke="#666" stroke-width="0.6"/>
<line x1="333.7" y1="712" x2="335.7" y2="712" stroke="#666" stroke-width="0.6"/>
<rect x="318.7" y="724" width="32" height="50.4" fill="#000"/>
<line x1="414.7" y1="716" x2="414.7" y2="723.7" stroke="#666" stroke-width="0.6"/>
<line x1="413.7" y1="716" x2="415.7" y2="716" stroke="#666" stroke-width="0.6"/>
<rect x="398.7" y="723.7" width="32" height="50.7" fill="#000"/>
<line x1="103.85" y1="803.5" x2="103.85" y2="874.9" stroke="#c0c0c0" stroke-width="0.7"/>
<line x1="102.55" y1="874.9" x2="103.85" y2="874.9" stroke="#c0c0c0" stroke-width="0.56"/>
<text x="97.5" y="878.71" font-size="7" text-anchor="middle" class="t">0</text>
<line x1="102.55" y1="860.62" x2="103.85" y2="860.62" stroke="#c0c0c0" stroke-width="0.56"/>
<text x="96.9" y="864.37" font-size="7" text-anchor="middle" class="t">20</text>
<line x1="102.55" y1="846.34" x2="103.85" y2="846.34" stroke="#c0c0c0" stroke-width="0.56"/>
<text x="96.9" y="850.03" font-size="7" text-anchor="middle" class="t">40</text>
<line x1="102.55" y1="832.06" x2="103.85" y2="832.06" stroke="#c0c0c0" stroke-width="0.56"/>
<text x="96.9" y="835.69" font-size="7" text-anchor="middle" class="t">60</text>
<line x1="102.55" y1="817.78" x2="103.85" y2="817.78" stroke="#c0c0c0" stroke-width="0.56"/>
<text x="96.9" y="821.35" font-size="7" text-anchor="middle" class="t">80</text>
<line x1="102.55" y1="803.5" x2="103.85" y2="803.5" stroke="#c0c0c0" stroke-width="0.56"/>
<text x="96.9" y="807.01" font-size="7" text-anchor="middle" class="t">100</text>
<line x1="103.85" y1="874.9" x2="260" y2="874.9" stroke="#b8b8b8" stroke-width="0.7"/>
<line x1="181.93" y1="874.9" x2="181.93" y2="876.4" stroke="#b8b8b8" stroke-width="0.56"/>
<line x1="260" y1="874.9" x2="260" y2="876.4" stroke="#b8b8b8" stroke-width="0.56"/>
<line x1="143.25" y1="812" x2="143.25" y2="825" stroke="#666" stroke-width="0.6"/>
<line x1="142.25" y1="812" x2="144.25" y2="812" stroke="#666" stroke-width="0.6"/>
<rect x="127.5" y="825" width="31.5" height="50.2" fill="#000"/>
<line x1="221.75" y1="847" x2="221.75" y2="856" stroke="#666" stroke-width="0.6"/>
<line x1="220.75" y1="847" x2="222.75" y2="847" stroke="#666" stroke-width="0.6"/>
<rect x="206" y="856" width="31.5" height="19.2" fill="#000"/>
<text x="77.09" y="838.8" font-size="7.2" text-anchor="middle" font-weight="bold" transform="rotate(-90 77.09 838.8)">RIG-I</text>
<text x="84.49" y="837.3" font-size="7.2" text-anchor="middle" font-weight="bold" transform="rotate(-90 84.49 837.3)">Fold increase</text>
<path d="M143.7,802.3 V796.8 H224 V802.3" fill="none" stroke="#000" stroke-width="1.4"/>
<text x="186.3" y="798.1" font-size="13" font-weight="bold" text-anchor="middle" letter-spacing="0.6">**</text>
<line x1="293.6" y1="805.1" x2="293.6" y2="875.6" stroke="#c0c0c0" stroke-width="0.7"/>
<line x1="292.3" y1="875.6" x2="293.6" y2="875.6" stroke="#c0c0c0" stroke-width="0.56"/>
<text x="286" y="878.81" font-size="7" text-anchor="middle" class="t">0</text>
<line x1="292.3" y1="861.5" x2="293.6" y2="861.5" stroke="#c0c0c0" stroke-width="0.56"/>
<text x="285.4" y="864.83" font-size="7" text-anchor="middle" class="t">20</text>
<line x1="292.3" y1="847.4" x2="293.6" y2="847.4" stroke="#c0c0c0" stroke-width="0.56"/>
<text x="285.4" y="850.85" font-size="7" text-anchor="middle" class="t">40</text>
<line x1="292.3" y1="833.3" x2="293.6" y2="833.3" stroke="#c0c0c0" stroke-width="0.56"/>
<text x="285.4" y="836.87" font-size="7" text-anchor="middle" class="t">60</text>
<line x1="292.3" y1="819.2" x2="293.6" y2="819.2" stroke="#c0c0c0" stroke-width="0.56"/>
<text x="285.4" y="822.89" font-size="7" text-anchor="middle" class="t">80</text>
<line x1="292.3" y1="805.1" x2="293.6" y2="805.1" stroke="#c0c0c0" stroke-width="0.56"/>
<text x="285.4" y="808.91" font-size="7" text-anchor="middle" class="t">100</text>
<line x1="293.6" y1="875.6" x2="455.5" y2="875.6" stroke="#b8b8b8" stroke-width="0.7"/>
<line x1="374.55" y1="875.6" x2="374.55" y2="877.1" stroke="#b8b8b8" stroke-width="0.56"/>
<line x1="455.5" y1="875.6" x2="455.5" y2="877.1" stroke="#b8b8b8" stroke-width="0.56"/>
<line x1="334" y1="809.7" x2="334" y2="822.7" stroke="#666" stroke-width="0.6"/>
<line x1="333" y1="809.7" x2="335" y2="809.7" stroke="#666" stroke-width="0.6"/>
<rect x="318" y="822.7" width="32" height="53.2" fill="#000"/>
<line x1="414.35" y1="819.7" x2="414.35" y2="834" stroke="#666" stroke-width="0.6"/>
<line x1="413.35" y1="819.7" x2="415.35" y2="819.7" stroke="#666" stroke-width="0.6"/>
<rect x="398" y="834" width="32.7" height="41.9" fill="#000"/>
<text x="141.7" y="886.7" font-size="5.9" text-anchor="middle" font-weight="bold">Mock</text>
<text x="231.4" y="886.7" font-size="5.9" text-anchor="middle" font-weight="bold">E2 pretreatment</text>
<text x="337.5" y="886.7" font-size="5.9" text-anchor="middle" font-weight="bold">Mock</text>
<text x="421.8" y="886.3" font-size="6.0" text-anchor="middle" font-weight="bold">E2 only during infection</text>
<line x1="128" y1="894.9" x2="251.5" y2="894.9" stroke="#000" stroke-width="1.8"/>
<line x1="316" y1="894.9" x2="448.2" y2="894.9" stroke="#000" stroke-width="1.8"/>
<text x="184.1" y="904.2" font-size="5.9" text-anchor="middle" font-weight="bold">NDV-B1</text>
<text x="376.7" y="904.2" font-size="5.9" text-anchor="middle" font-weight="bold">NDV-B1</text>
</svg>
</body></html>
